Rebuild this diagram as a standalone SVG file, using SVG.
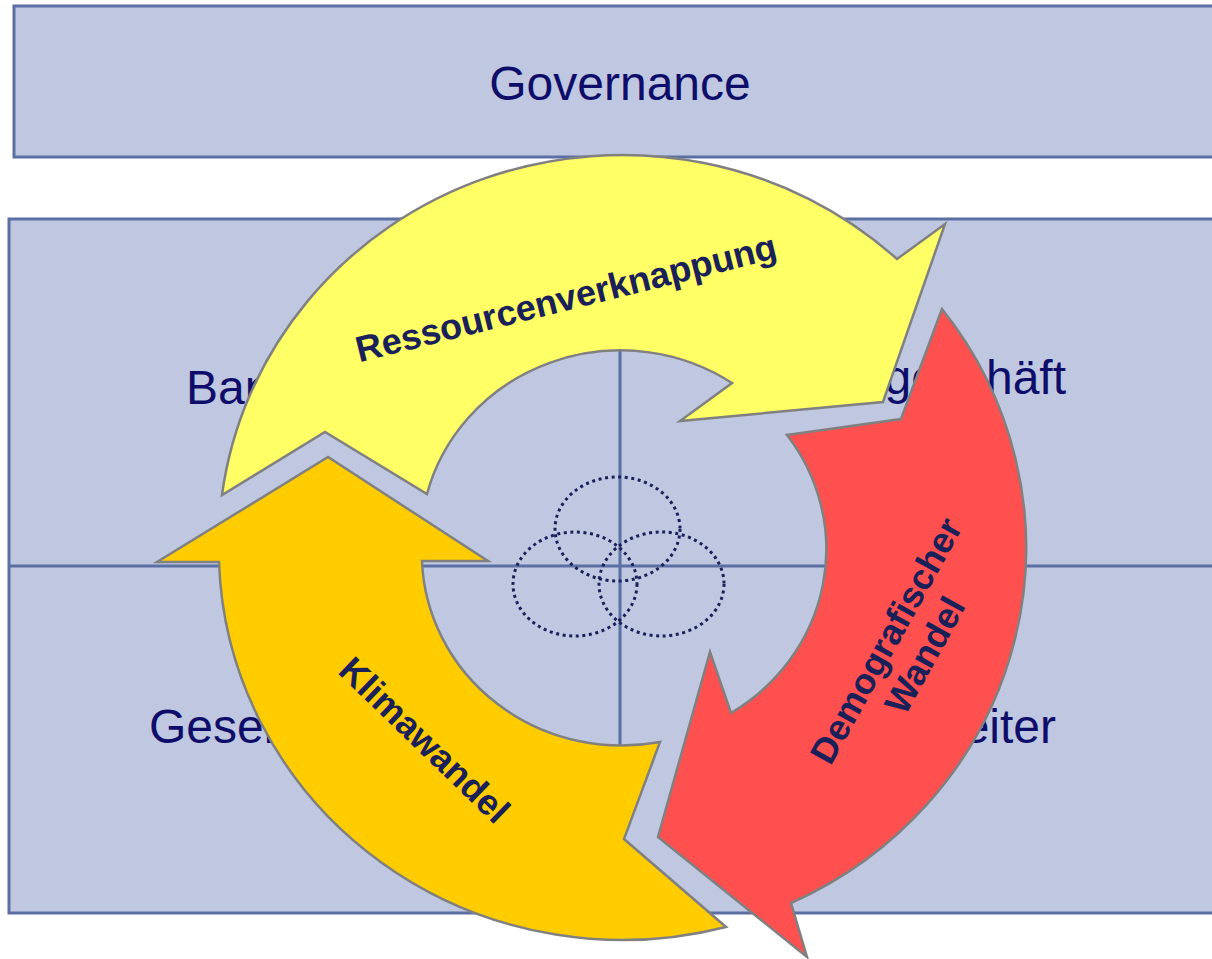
<svg xmlns="http://www.w3.org/2000/svg" width="1212" height="959" viewBox="0 0 1212 959">
<style>
.box{fill:#BFC8E0;stroke:#5B6FA2;stroke-width:3}
.grid{stroke:#5B6FA2;stroke-width:3;fill:none}
.lbl{font-family:"Liberation Sans",Arial,sans-serif;font-size:48px;fill:#0E0E6A}
.arr{stroke:#808080;stroke-width:2.5;stroke-linejoin:miter}
.atx{font-family:"Liberation Sans",Arial,sans-serif;font-size:36px;font-weight:bold;fill:#1A2158}
.dot{fill:none;stroke:#1A2158;stroke-width:3;stroke-dasharray:3 3.6}
</style>
<rect width="1212" height="959" fill="#FFFFFF"/>
<g id="governance">
<rect class="box" x="14" y="6" width="1220" height="151"/>
<text class="lbl" x="620" y="100" text-anchor="middle">Governance</text>
</g>
<g id="quadrants">
<rect class="box" x="9" y="219" width="1225" height="694"/>
<line class="grid" x1="9" y1="566" x2="1212" y2="566"/>
<line class="grid" x1="620" y1="219" x2="620" y2="913"/>
</g>
<g id="q-bankbetrieb"><text class="lbl" x="186" y="404">Bankbetrieb</text></g>
<g id="q-kerngeschaeft"><text class="lbl" x="1066" y="394" text-anchor="end">Kerngeschäft</text></g>
<g id="q-gesellschaft"><text class="lbl" x="149" y="743">Gesellschaft</text></g>
<g id="q-mitarbeiter"><text class="lbl" x="1056" y="743" text-anchor="end">Mitarbeiter</text></g>
<g id="overlap">
<ellipse class="dot" cx="617.5" cy="529" rx="62.5" ry="52"/>
<ellipse class="dot" cx="575" cy="584" rx="62" ry="52"/>
<ellipse class="dot" cx="661.5" cy="584" rx="62.5" ry="52"/>
</g>
<g id="connectors">
<g id="arrow-ressourcen">
<path class="arr" fill="#FFFF66" d="M222,495 A404,391 0 0 1 897,259 L945,224 L883,402 L680,421 L732,383 A200,192 0 0 0 427,494 L325,432 Z"/>
<text class="atx" x="569" y="310" text-anchor="middle" font-size="38" transform="rotate(-14 569 310)">Ressourcenverknappung</text>
</g>
<g id="arrow-demografie">
<path class="arr" fill="#FF5050" d="M942,309 A404,391 0 0 1 791,903 L807,957 L658,837 L710,652 L731,713 A200,192 0 0 0 787,435 L901,419 Z"/>
<g transform="translate(903 650) rotate(-61)">
<text class="atx" x="0" y="-7" text-anchor="middle">Demografischer</text>
<text class="atx" x="6" y="34" text-anchor="middle">Wandel</text>
</g>
</g>
<g id="arrow-klima">
<path class="arr" fill="#FFCC00" d="M726,927 A404,391 0 0 1 219,562 L157,562 L328,457 L488,561 L422,561 A200,192 0 0 0 660,742 L624,839 Z"/>
<text class="atx" x="416" y="749" text-anchor="middle" transform="rotate(44 416 749)">Klimawandel</text>
</g>
</g>
</svg>
